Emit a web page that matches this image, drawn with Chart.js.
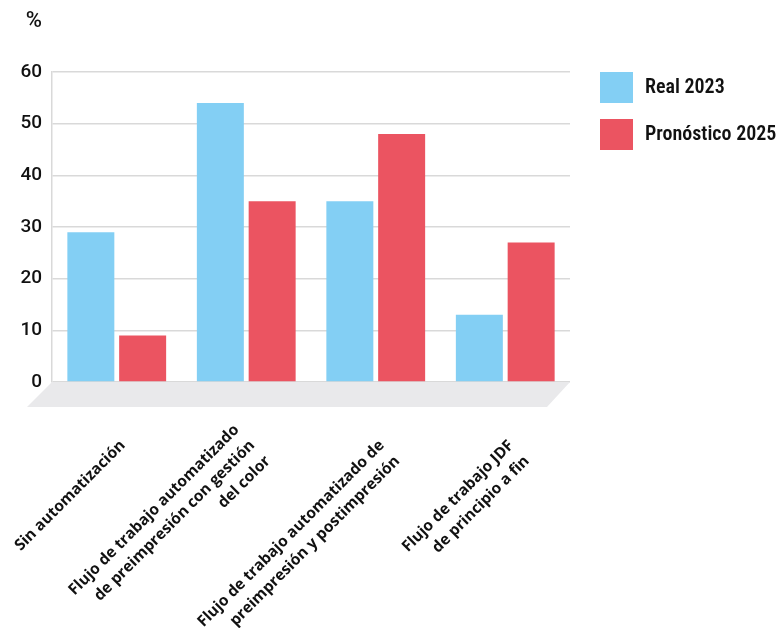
<!DOCTYPE html>
<html>
<head>
<meta charset="utf-8">
<script src="https://cdn.jsdelivr.net/npm/chart.js@4"></script>
<style>
  html, body { margin: 0; padding: 0; background: #ffffff; }
  #wrap { width: 779px; height: 628px; position: relative; }
</style>
</head>
<body>
<div id="wrap"><canvas id="c" width="779" height="628"></canvas></div>
<script>
// Categories (each entry is a list of label lines)
const categories = [
  ["Sin automatización"],
  ["Flujo de trabajo automatizado", "de preimpresión con gestión", "del color"],
  ["Flujo de trabajo automatizado de", "preimpresión y postimpresión"],
  ["Flujo de trabajo JDF", "de principio a fin"]
];
const seriesNames = ["Real 2023", "Pronóstico 2025"];
const real2023 = [29, 54, 35, 13];
const forecast2025 = [9, 35, 48, 27];
const yTicks = [0, 10, 20, 30, 40, 50, 60];
const unitLabel = "%";

const BLUE = "#83cff4";
const RED = "#eb5461";
const GRID = "#d9d9d9";
const FLOOR = "#e9e9eb";
const INK = "#111111";
const NUM_FONT = "Roboto, 'Liberation Sans', sans-serif";
const LEGEND_FONT = "'Liberation Sans Narrow', 'Roboto Condensed', 'DejaVu Sans Condensed', Roboto, sans-serif";
const LABEL_FONT = "'Open Sans', 'Noto Sans', sans-serif";

// Grey slanted floor under the plot area
const floorPlugin = {
  id: "floor",
  beforeDatasetsDraw(chart) {
    const { ctx, chartArea } = chart;
    const depth = 25;
    ctx.save();
    ctx.fillStyle = FLOOR;
    ctx.beginPath();
    ctx.moveTo(chartArea.left, chartArea.bottom);
    ctx.lineTo(chartArea.right, chartArea.bottom);
    ctx.lineTo(chartArea.right - 23, chartArea.bottom + depth);
    ctx.lineTo(chartArea.left - 25, chartArea.bottom + depth);
    ctx.closePath();
    ctx.fill();
    ctx.restore();
  }
};

// Rotated multi-line category labels, unit label and legend
const textPlugin = {
  id: "texts",
  afterDraw(chart) {
    const { ctx, chartArea, scales } = chart;
    const xs = scales.x;
    const lh = 22;
    ctx.save();
    ctx.fillStyle = INK;
    ctx.font = "bold 15.5px " + LABEL_FONT;
    ctx.textAlign = "right";
    ctx.textBaseline = "middle";
    categories.forEach((lines, i) => {
      const px = xs.getPixelForValue(i) + 6;
      const py = chartArea.bottom + 61;
      const shift = -Math.floor((lines.length - 1) / 2);
      ctx.save();
      ctx.translate(px, py);
      ctx.rotate(-Math.PI / 4);
      lines.forEach((t, j) => ctx.fillText(t, 0, (j + shift) * lh));
      ctx.restore();
    });

    // unit label above the value axis
    ctx.font = "500 22px " + NUM_FONT;
    ctx.textAlign = "right";
    ctx.textBaseline = "middle";
    ctx.fillText(unitLabel, chartArea.left - 10, 21);

    // legend
    const lx = chartArea.right + 30;
    ctx.font = "600 20px " + LEGEND_FONT;
    ctx.textAlign = "left";
    chart.data.datasets.forEach((ds, k) => {
      const ty = chartArea.top + k * 47;
      ctx.fillStyle = ds.backgroundColor;
      ctx.fillRect(lx, ty, 33, 31);
      ctx.fillStyle = INK;
      ctx.fillText(ds.label, lx + 45, ty + 16);
    });
    ctx.restore();
  }
};

new Chart(document.getElementById("c"), {
  type: "bar",
  data: {
    labels: categories.map(l => l.join(" ")),
    datasets: [
      { label: seriesNames[0], data: real2023, backgroundColor: BLUE },
      { label: seriesNames[1], data: forecast2025, backgroundColor: RED }
    ]
  },
  options: {
    responsive: false,
    animation: false,
    layout: { padding: { top: 72, right: 209, left: 0, bottom: 0 } },
    datasets: { bar: { categoryPercentage: 0.8, barPercentage: 0.907 } },
    plugins: { legend: { display: false }, tooltip: { enabled: false } },
    scales: {
      x: {
        grid: { display: false },
        border: { display: false },
        ticks: { display: false },
        afterFit(s) { s.height = 246; }
      },
      y: {
        min: yTicks[0],
        max: yTicks[yTicks.length - 1],
        afterBuildTicks(s) { s.ticks = yTicks.map(v => ({ value: v })); },
        grid: { color: GRID, lineWidth: 1.5, drawTicks: false },
        border: { color: GRID, width: 1.5 },
        ticks: {
          padding: 10,
          color: INK,
          font: { family: NUM_FONT, size: 19, weight: "500" }
        },
        afterFit(s) { s.width = 52; }
      }
    }
  },
  plugins: [floorPlugin, textPlugin]
});
</script>
</body>
</html>
